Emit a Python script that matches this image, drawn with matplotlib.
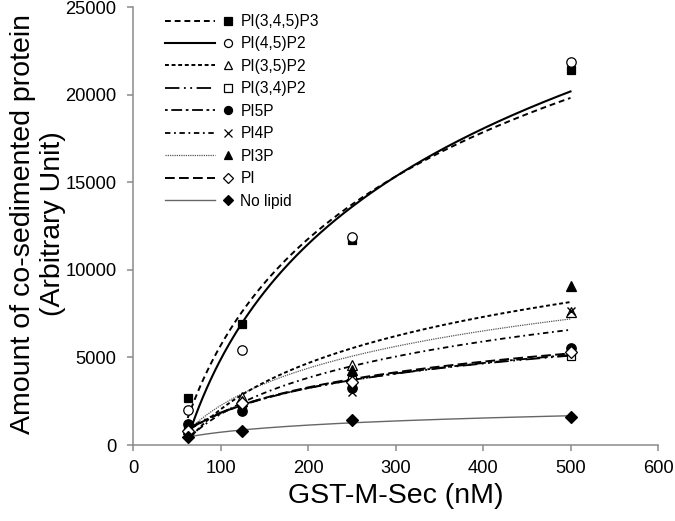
import numpy as np
import matplotlib
matplotlib.use("Agg")
import matplotlib.pyplot as plt
from matplotlib.lines import Line2D
from matplotlib.legend_handler import HandlerBase

plt.rcParams['font.family'] = ['Liberation Sans', 'DejaVu Sans']

# ---------------- data ----------------
x_nM = [62.5, 125, 250, 500]
labels = ["PI(3,4,5)P3", "PI(4,5)P2", "PI(3,5)P2", "PI(3,4)P2", "PI5P",
          "PI4P", "PI3P", "PI", "No lipid"]
pi345p3 = [2700, 6900, 11700, 21400]
pi45p2 = [2000, 5450, 11850, 21850]
pi35p2 = [1100, 2750, 4550, 7600]
pi34p2 = [900, 2300, 3700, 5100]
pi5p = [1200, 1950, 3250, 5550]
pi4p = [1000, 2200, 3000, 7650]
pi3p = [900, 2500, 4300, 9100]
pi = [800, 2400, 3600, 5300]
no_lipid = [450, 800, 1400, 1600]
values = [pi345p3, pi45p2, pi35p2, pi34p2, pi5p, pi4p, pi3p, pi, no_lipid]

x_ticks = [0, 100, 200, 300, 400, 500, 600]
y_ticks = [0, 5000, 10000, 15000, 20000, 25000]

# ---------------- styles ----------------
# marker styles: (marker, facecolor, size)
markers = [('s', 'black', 6.3), ('o', 'white', 6.8), ('^', 'white', 6.8),
           ('s', 'white', 6.3), ('o', 'black', 6.8), ('x', 'black', 6.3),
           ('^', 'black', 6.8), ('D', 'white', 5.8), ('D', 'black', 5.8)]
# line styles shown in legend rows: (dashes or None, lw, color)
line_styles = [((3, 2), 1.4, 'black'),
               (None, 1.5, 'black'),
               ((2, 1.4), 1.4, 'black'),
               ((8, 2.5, 1, 2.5, 1, 2.5), 1.3, 'black'),
               ((1.5, 2, 6, 2), 1.3, 'black'),
               ((3, 2, 1, 2), 1.3, 'black'),
               ((1, 0.8), 0.9, '#555555'),
               ((5, 2.2), 1.4, 'black'),
               (None, 1.0, '#666666')]
# which legend line style is drawn as each series' trend line
trend_style_idx = [0, 1, 6, 3, 4, 5, 2, 7, 8]

fig = plt.figure(figsize=(6.75, 5.21), dpi=100)
ax = fig.add_axes([133/675, 1-445/521, 525/675, 438/521])

xf = np.linspace(min(x_nM), max(x_nM), 200)
x_arr = np.array(x_nM)
for i, yv in enumerate(values):
    a, b = np.polyfit(np.log(x_arr), np.array(yv, float), 1)
    d, lw, col = line_styles[trend_style_idx[i]]
    ln, = ax.plot(xf, a*np.log(xf)+b, color=col, lw=lw, zorder=2)
    if d is not None:
        ln.set_dashes(d)
for i, yv in enumerate(values):
    m, fc, ms = markers[i]
    if m == 'x':
        ax.plot(x_nM, yv, linestyle='none', marker='x', color='black',
                ms=ms, mew=1.0, zorder=3)
    else:
        ax.plot(x_nM, yv, linestyle='none', marker=m, mfc=fc, mec='black',
                ms=ms, mew=0.9, zorder=3)

ax.set_xlim(0, 600)
ax.set_ylim(0, 25000)
ax.set_xticks(x_ticks)
ax.set_yticks(y_ticks)
for s in ['top', 'right']:
    ax.spines[s].set_visible(False)
for s in ['left', 'bottom']:
    ax.spines[s].set_color('#8a8a8a')
    ax.spines[s].set_linewidth(1.1)
ax.tick_params(direction='out', length=4, width=1.1, color='#8a8a8a',
               labelsize=13.2, labelcolor='black')
ax.tick_params(axis='y', pad=8)
ax.tick_params(axis='x', pad=7)

fig.text(38/675, 1-224/521, "Amount of co-sedimented protein\n(Arbitrary Unit)",
         rotation=90, ha='center', va='center', multialignment='center',
         fontsize=20.5, linespacing=1.22)
fig.text(396/675, 1-496/521, "GST-M-Sec (nM)", ha='center', va='center',
         fontsize=20.5)


# ---------------- legend: line then marker ----------------
class LineMarkerHandler(HandlerBase):
    def create_artists(self, legend, orig_handle, xdescent, ydescent,
                       width, height, fontsize, trans):
        line, mk = orig_handle
        y = height/2 - ydescent
        x0 = -xdescent
        l = Line2D([x0, x0 + width*0.72], [y, y])
        l.update_from(line)
        l.set_marker('None')
        l.set_transform(trans)
        p = Line2D([x0 + width*0.9], [y])
        p.update_from(mk)
        p.set_linestyle('None')
        p.set_transform(trans)
        return [l, p]


handles = []
for i in range(len(labels)):
    d, lw, col = line_styles[i]
    l = Line2D([0, 1], [0, 0], color=col, lw=lw)
    if d is not None:
        l.set_dashes(d)
    m, fc, ms = markers[i]
    if m == 'x':
        p = Line2D([0], [0], marker='x', color='black', ms=ms*0.85, mew=0.9,
                   linestyle='none')
    else:
        p = Line2D([0], [0], marker=m, mfc=fc, mec='black', ms=ms*0.85,
                   mew=0.9, linestyle='none')
    handles.append((l, p))

leg = ax.legend(handles, labels, handler_map={tuple: LineMarkerHandler()},
                loc='upper left', bbox_to_anchor=(32/525, 1-7/438),
                frameon=False, fontsize=11.2, handlelength=4.5,
                handletextpad=0.35, labelspacing=0.48, borderpad=0,
                borderaxespad=0)

fig.savefig("out.png", dpi=100)
